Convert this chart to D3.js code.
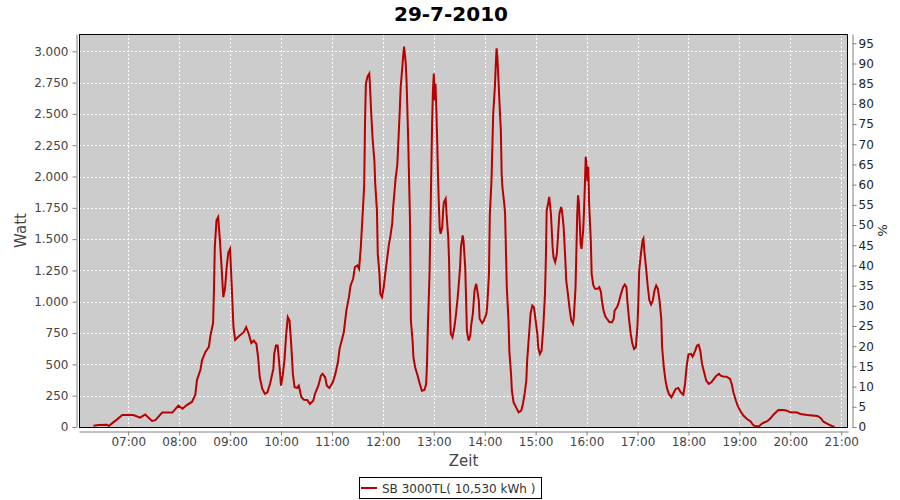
<!DOCTYPE html>
<html><head><meta charset="utf-8">
<script src="https://cdn.jsdelivr.net/npm/d3@7"></script>
<style>body{margin:0;background:#fff}svg{display:block}</style>
</head><body><svg id="c" width="900" height="500"></svg>
<script>
const chartTitle = "29-7-2010";
const seriesName = "SB 3000TL( 10,530 kWh )";
const xTitle = "Zeit", yTitle = "Watt", y2Title = "%";

const times = [
"06:19","06:25","06:35","06:37","06:42","06:47","06:53",
"07:06","07:14","07:20","07:28","07:32","07:40","07:52","07:59",
"08:04","08:09","08:15","08:19","08:21","08:25","08:27","08:31","08:35","08:37","08:40","08:41","08:42","08:44","08:46","08:48","08:50","08:52","08:54","08:56","08:58",
"09:00","09:02","09:04","09:06","09:10","09:16","09:19","09:22","09:25","09:28","09:31","09:33","09:35","09:38","09:41","09:44","09:47","09:51","09:52","09:54","09:56","09:58",
"10:00","10:02","10:04","10:06","10:08","10:10","10:12","10:14","10:16","10:19","10:21","10:24","10:27","10:31","10:34","10:38","10:40","10:44","10:47","10:49","10:52","10:54","10:57",
"11:01","11:04","11:07","11:09","11:14","11:17","11:20","11:22","11:25","11:27","11:30","11:32","11:34","11:36","11:38","11:39","11:40","11:42","11:44","11:45","11:46","11:48","11:50","11:51","11:53","11:54","11:56","11:57","11:59",
"12:01","12:03","12:05","12:07","12:09","12:11","12:12","12:15","12:17","12:18","12:20","12:21","12:23","12:24","12:25","12:27","12:28","12:29","12:30","12:31","12:32","12:33","12:35","12:36","12:38","12:41","12:43","12:46","12:49","12:51","12:52","12:53","12:55","12:56","12:57","12:58","12:59",
"13:00","13:01","13:02","13:03","13:04","13:05","13:06","13:07","13:08","13:10","13:11","13:12","13:14","13:15","13:17","13:18","13:19","13:20","13:22","13:24","13:26","13:28","13:29","13:31","13:32","13:34","13:35","13:37","13:38","13:39","13:41","13:43","13:44","13:46","13:48","13:50","13:51","13:53","13:54","13:57","13:59",
"14:02","14:03","14:05","14:06","14:08","14:10","14:12","14:13","14:14","14:15","14:16","14:18","14:19","14:20","14:21","14:23","14:24","14:26","14:28","14:29","14:31","14:32","14:34","14:37","14:40","14:43","14:45","14:47","14:49","14:50","14:52","14:54","14:56","14:58",
"15:00","15:02","15:03","15:05","15:07","15:09","15:11","15:12","15:13","15:15","15:16","15:18","15:20","15:21","15:23","15:25","15:27","15:28","15:30","15:31","15:33","15:35","15:36","15:38","15:40","15:42","15:44","15:45","15:47","15:48","15:49","15:50","15:51","15:53","15:54","15:56","15:57","15:58","15:59",
"16:00","16:01","16:02","16:03","16:05","16:06","16:08","16:10","16:13","16:15","16:17","16:18","16:20","16:22","16:24","16:27","16:30","16:32","16:33","16:36","16:38","16:40","16:43","16:45","16:47","16:48","16:50","16:52","16:54","16:56","16:58",
"17:00","17:01","17:02","17:04","17:06","17:07","17:08","17:10","17:12","17:14","17:16","17:18","17:20","17:22","17:24","17:26","17:28","17:29","17:31","17:33","17:35","17:37","17:40","17:43","17:45","17:48","17:51","17:54","17:56","17:58",
"18:00","18:03","18:05","18:08","18:10","18:12","18:14","18:16","18:19","18:21","18:24","18:27","18:30","18:33","18:36","18:38","18:41","18:45","18:49","18:51","18:53","18:56","18:58",
"19:01","19:05","19:09","19:13","19:16","19:19","19:23","19:27","19:33","19:37","19:41","19:46","19:52","19:56",
"20:00","20:08","20:12","20:20","20:32","20:36","20:39","20:45","20:49","20:52"
];
const watts = [
10,15,18,8,35,61,96,
96,75,100,48,55,115,115,170,
145,175,200,255,375,455,535,600,640,735,830,1095,1436,1650,1676,1490,1277,1037,1103,1277,1396,
1423,1117,797,695,722,757,797,743,670,690,664,557,397,304,264,277,344,464,584,650,650,504,
330,410,530,730,877,850,664,424,317,312,330,237,218,216,184,210,264,330,410,424,397,330,312,
357,424,517,624,757,930,1037,1130,1183,1277,1290,1263,1436,1676,1930,2435,2742,2800,2822,2700,2542,2290,2130,1943,1730,1383,1223,1063,1037,
1117,1237,1343,1450,1530,1623,1743,1983,2090,2237,2542,2717,2877,2970,3037,2903,2742,2502,2250,1943,1636,850,690,557,477,410,357,290,296,344,504,797,1223,1610,2023,2423,2690,
2822,2610,2742,2535,2290,1997,1770,1583,1543,1597,1730,1797,1823,1703,1517,1330,957,744,717,784,890,1023,1103,1277,1436,1530,1490,1277,1037,770,690,730,810,904,1090,1143,1103,1010,864,830,850,
904,970,1223,1690,1970,2502,2717,2890,3024,2944,2797,2502,2370,2010,1904,1784,1703,1117,850,610,424,290,197,157,117,130,184,264,370,530,717,904,970,957,
850,744,637,584,610,797,1063,1330,1730,1797,1837,1703,1436,1357,1317,1383,1597,1703,1757,1730,1597,1330,1170,1063,944,850,824,877,1117,1410,1703,1850,1784,1463,1423,1570,1730,1930,2157,
2077,1963,2077,1784,1490,1223,1130,1103,1103,1117,1077,1010,930,884,864,837,837,864,930,957,997,1050,1117,1137,1117,1010,864,744,664,624,637,
810,1000,1250,1383,1490,1504,1410,1277,1130,1010,978,1010,1090,1130,1103,1010,864,637,477,370,304,264,237,277,304,312,277,258,344,490,
578,584,562,610,650,657,610,504,424,370,344,357,384,410,424,410,404,402,384,344,277,210,170,
130,90,64,46,18,5,5,30,46,72,104,136,136,130,
117,115,104,96,88,70,43,21,8,0
];

const wattTicks = [0,250,500,750,1000,1250,1500,1750,2000,2250,2500,2750,3000];
const pctTicks = [0,5,10,15,20,25,30,35,40,45,50,55,60,65,70,75,80,85,90,95];
const hourTicks = ["07:00","08:00","09:00","10:00","11:00","12:00","13:00","14:00","15:00","16:00","17:00","18:00","19:00","20:00","21:00"];
const timeRange = ["06:02","21:08"];
const wattMax = 3138, pctMax = 97.3;

const parse = d3.timeParse("%H:%M");
const data = times.map((t,i)=>({t:parse(t), w:watts[i]}));
const P = {l:79, r:848, t:34, b:427};
const FONT = "'DejaVu Sans', sans-serif";

const svg = d3.select("#c");
const x = d3.scaleTime().domain(timeRange.map(parse)).range([P.l, P.r]);
const y = d3.scaleLinear().domain([0, wattMax]).range([P.b, P.t]);
const y2 = d3.scaleLinear().domain([0, pctMax]).range([P.b, P.t]);

// plot background
svg.append("rect").attr("x",P.l).attr("y",P.t).attr("width",P.r-P.l).attr("height",P.b-P.t).attr("fill","#cccccc");

// grid
const grid = svg.append("g").attr("stroke","#ffffff").attr("stroke-width",1).attr("stroke-dasharray","2,2");
grid.selectAll("line.v").data(hourTicks.map(parse)).enter().append("line")
  .attr("x1",d=>Math.round(x(d))+0.5).attr("x2",d=>Math.round(x(d))+0.5).attr("y1",P.t).attr("y2",P.b);
grid.selectAll("line.h").data(wattTicks.filter(d=>d>0)).enter().append("line")
  .attr("y1",d=>Math.round(y(d))+0.5).attr("y2",d=>Math.round(y(d))+0.5).attr("x1",P.l).attr("x2",P.r);

// line
const clip = svg.append("clipPath").attr("id","pc").append("rect").attr("x",P.l).attr("y",P.t).attr("width",P.r-P.l).attr("height",P.b-P.t);
svg.append("path").datum(data).attr("clip-path","url(#pc)")
  .attr("fill","none").attr("stroke","#b80000").attr("stroke-width",2).attr("stroke-linejoin","miter")
  .attr("d", d3.line().x(d=>x(d.t)).y(d=>y(d.w)));

// border
svg.append("rect").attr("x",P.l+0.5).attr("y",P.t+0.5).attr("width",P.r-P.l-1).attr("height",P.b-P.t).attr("fill","none").attr("stroke","#000");

function styleAxis(g, col){
  g.select(".domain").attr("stroke","#808080");
  g.selectAll(".tick line").attr("stroke","#808080");
  g.selectAll(".tick text").attr("fill",col).style("font-family",FONT).style("font-size","12px");
}
const fmtW = d => d3.format(",")(d).replace(/,/g,".");
const gl = svg.append("g").attr("transform","translate(76.5,0)")
  .call(d3.axisLeft(y).tickValues(wattTicks).tickFormat(fmtW).tickSize(4).tickSizeOuter(0).tickPadding(4));
styleAxis(gl,"#444");
const gr = svg.append("g").attr("transform","translate(852.5,0)")
  .call(d3.axisRight(y2).tickValues(pctTicks).tickSize(4).tickSizeOuter(0).tickPadding(2));
styleAxis(gr,"#222");
const gb = svg.append("g").attr("transform","translate(0,431.5)")
  .call(d3.axisBottom(x).tickValues(hourTicks.map(parse)).tickFormat(d3.timeFormat("%H:%M")).tickSize(4).tickSizeOuter(0).tickPadding(2));
styleAxis(gb,"#444");

// titles
svg.append("text").attr("x",451).attr("y",21).attr("text-anchor","middle")
  .style("font-family",FONT).style("font-weight","bold").style("font-size","20px").attr("fill","#000").text(chartTitle);
svg.append("text").attr("x",(P.l+P.r)/2).attr("y",466).attr("text-anchor","middle")
  .style("font-family",FONT).style("font-size","15px").attr("fill","#444").text(xTitle);
svg.append("text").attr("transform","translate(26,"+((P.t+P.b)/2)+") rotate(-90)").attr("text-anchor","middle")
  .style("font-family",FONT).style("font-size","15px").attr("fill","#444").text(yTitle);
svg.append("text").attr("transform","translate(878,"+((P.t+P.b)/2)+") rotate(90)").attr("text-anchor","middle")
  .style("font-family",FONT).style("font-size","13px").attr("fill","#222").text(y2Title);

// legend
const lg = svg.append("g");
lg.append("rect").attr("x",359.5).attr("y",477.5).attr("width",182).attr("height",21).attr("fill","#fff").attr("stroke","#000");
lg.append("line").attr("x1",361).attr("x2",377).attr("y1",488).attr("y2",488).attr("stroke","#b80000").attr("stroke-width",2);
lg.append("text").attr("x",382).attr("y",492.5).style("font-family",FONT).style("font-size","12px").attr("fill","#333").text(seriesName);
</script></body></html>
